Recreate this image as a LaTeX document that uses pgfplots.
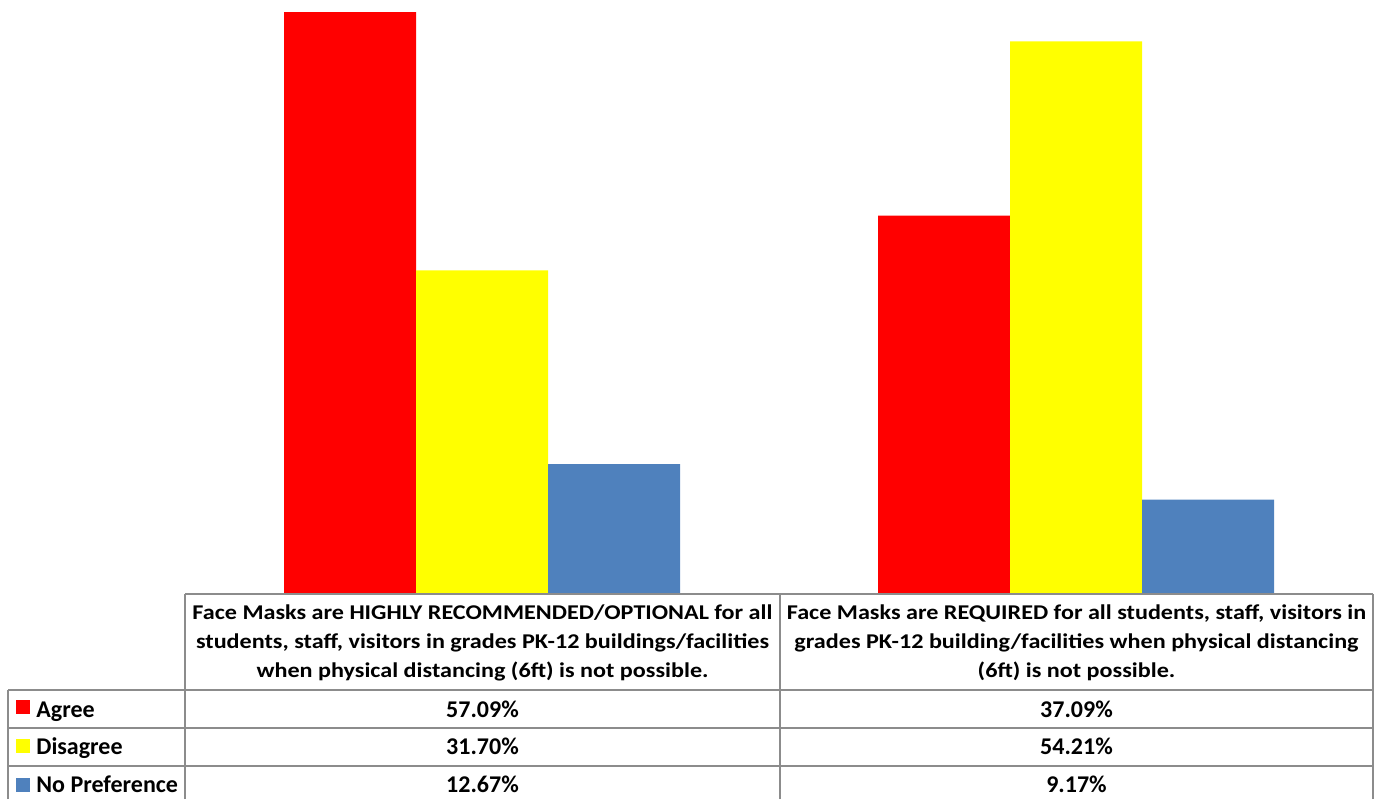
\documentclass[border=0pt]{standalone}
\usepackage{pgfplots}
\pgfplotsset{compat=1.18}
\usepackage{fontspec}
\setmainfont{Carlito}
\newfontfamily\hdrfont[FakeStretch=1.15]{Carlito}
\definecolor{agreeRed}{HTML}{FF0000}
\definecolor{disYellow}{HTML}{FFFF00}
\definecolor{noprefBlue}{HTML}{4F81BD}
\definecolor{gridGray}{HTML}{8C8C8C}

\begin{document}
\begin{tikzpicture}
% page frame, 1px = 0.5pt
\path (0,0) rectangle (689pt,399.5pt);
\begin{axis}[
  at={(92.5pt,103pt)}, anchor=south west,
  scale only axis,
  width=594pt, height=296.5pt,
  xmin=-0.5, xmax=1.5,
  ymin=0, ymax=58.27,
  ybar=0pt, bar width=66pt,
  hide axis,
  clip=false,
]
\addplot[fill=agreeRed, draw=none] coordinates {(0,57.09) (1,37.09)};
\addplot[fill=disYellow, draw=none] coordinates {(0,31.70) (1,54.21)};
\addplot[fill=noprefBlue, draw=none] coordinates {(0,12.67) (1,9.17)};
\end{axis}
% data table below the chart
\begin{scope}[gridGray, line width=1pt]
  \draw (92.5pt,102.5pt) -- (686.5pt,102.5pt);
  \draw (4pt,54.5pt) -- (686.5pt,54.5pt);
  \draw (4pt,35.5pt) -- (686.5pt,35.5pt);
  \draw (4pt,16.5pt) -- (686.5pt,16.5pt);
  \draw (4pt,0pt) -- (4pt,54.5pt);
  \draw (92.5pt,0pt) -- (92.5pt,102.5pt);
  \draw (390pt,0pt) -- (390pt,102.5pt);
  \draw (686.5pt,0pt) -- (686.5pt,102.5pt);
\end{scope}
\begin{scope}[font=\hdrfont\bfseries\fontsize{10.5pt}{14.5pt}\selectfont]
  \node[anchor=base] at (241.25pt,90pt) {Face Masks are HIGHLY RECOMMENDED/OPTIONAL for all};
  \node[anchor=base] at (241.25pt,75.5pt) {students, staff, visitors in grades PK-12 buildings/facilities};
  \node[anchor=base] at (241.25pt,61pt) {when physical distancing (6ft) is not possible.};
  \node[anchor=base] at (538.25pt,90pt) {Face Masks are REQUIRED for all students, staff, visitors in};
  \node[anchor=base] at (538.25pt,75.5pt) {grades PK-12 building/facilities when physical distancing};
  \node[anchor=base] at (538.25pt,61pt) {(6ft) is not possible.};
\end{scope}
\begin{scope}[font=\bfseries\fontsize{12pt}{14pt}\selectfont]
  \fill[agreeRed] (8pt,42.5pt) rectangle (15pt,49.5pt);
  \fill[disYellow] (8pt,23pt) rectangle (15pt,30pt);
  \fill[noprefBlue] (8pt,3.5pt) rectangle (15pt,10.5pt);
  \node[anchor=base west, inner sep=0pt] at (18pt,41pt) {Agree};
  \node[anchor=base west, inner sep=0pt] at (18pt,22.5pt) {Disagree};
  \node[anchor=base west, inner sep=0pt] at (18pt,3.5pt) {No Preference};
  \node[anchor=base] at (241.25pt,41pt) {57.09\%};
  \node[anchor=base] at (241.25pt,22.5pt) {31.70\%};
  \node[anchor=base] at (241.25pt,3.5pt) {12.67\%};
  \node[anchor=base] at (538.25pt,41pt) {37.09\%};
  \node[anchor=base] at (538.25pt,22.5pt) {54.21\%};
  \node[anchor=base] at (538.25pt,3.5pt) {9.17\%};
\end{scope}
\end{tikzpicture}
\end{document}
